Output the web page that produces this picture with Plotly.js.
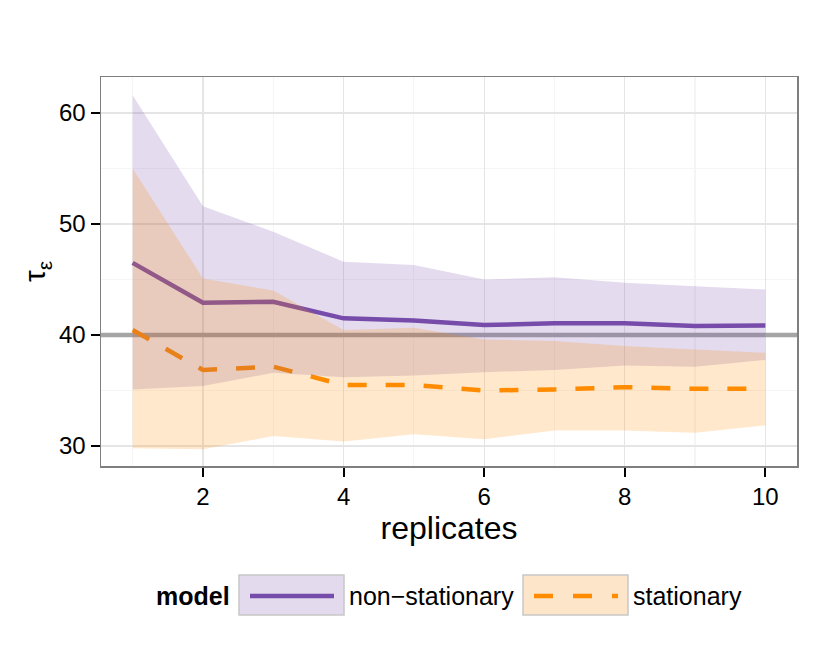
<!DOCTYPE html>
<html>
<head>
<meta charset="utf-8">
<script src="https://cdn.plot.ly/plotly-3.0.1.min.js"></script>
<style>
  html, body { margin: 0; padding: 0; background: #fff; }
  #chart { width: 830px; height: 664px; }
</style>
</head>
<body>
<div id="chart"></div>
<script>
// replicates on the x axis
var replicates = [1, 2, 3, 4, 5, 6, 7, 8, 9, 10];
var xRange = [0.55, 10.45];

// non-stationary model: mean and band
var nonstatMean  = [46.5, 42.9, 43.0, 41.5, 41.3, 40.9, 41.05, 41.05, 40.8, 40.85];
var nonstatUpper = [61.6, 51.6, 49.3, 46.6, 46.3, 45.0, 45.2, 44.7, 44.4, 44.1];
var nonstatLower = [35.1, 35.4, 36.6, 36.2, 36.35, 36.65, 36.85, 37.25, 37.15, 37.75];

// stationary model: mean and band
var statMean  = [40.45, 36.85, 37.15, 35.5, 35.5, 35.0, 35.1, 35.3, 35.15, 35.15];
var statUpper = [55.0, 45.1, 44.0, 40.45, 40.65, 39.6, 39.45, 39.0, 38.7, 38.4];
var statLower = [29.8, 29.7, 30.9, 30.4, 31.05, 30.6, 31.4, 31.4, 31.2, 31.85];

var trueValue = 40;
var yTicks = [30, 40, 50, 60];

var purple = 'rgb(118,76,170)';
var orange = 'rgb(255,140,0)';
var font = 'Liberation Sans, Arial, sans-serif';

// plot area in pixels
var L = 101, R = 797, T = 77, B = 466;
function px(x) { return (x - L) / (R - L); }
function py(y) { return (B - y) / (B - T); }

function band(upper, lower) {
  return {
    x: replicates.concat(replicates.slice().reverse()),
    y: upper.concat(lower.slice().reverse())
  };
}

var nb = band(nonstatUpper, nonstatLower);
var sb = band(statUpper, statLower);

var traces = [
  {
    // true value
    x: xRange, y: [trueValue, trueValue], type: 'scatter', mode: 'lines',
    line: {color: 'rgb(165,165,165)', width: 4.5}, showlegend: false, hoverinfo: 'skip'
  },
  {
    x: replicates, y: nonstatMean, type: 'scatter', mode: 'lines',
    line: {color: purple, width: 4.5}, showlegend: false, hoverinfo: 'skip'
  },
  {
    x: replicates, y: statMean, type: 'scatter', mode: 'lines',
    line: {color: orange, width: 4.5, dash: '19px,19px'}, showlegend: false, hoverinfo: 'skip'
  },
  {
    x: nb.x, y: nb.y, type: 'scatter', mode: 'lines', fill: 'toself',
    fillcolor: 'rgba(118,76,170,0.2)', line: {width: 0}, showlegend: false, hoverinfo: 'skip'
  },
  {
    x: sb.x, y: sb.y, type: 'scatter', mode: 'lines', fill: 'toself',
    fillcolor: 'rgba(255,140,0,0.2)', line: {width: 0}, showlegend: false, hoverinfo: 'skip'
  }
];

var shapes = [
  // legend keys
  {type: 'rect', xref: 'paper', yref: 'paper', x0: px(239), x1: px(344), y0: py(575), y1: py(615),
   fillcolor: 'rgb(227,218,237)', line: {color: 'rgb(200,200,200)', width: 1.5}},
  {type: 'line', xref: 'paper', yref: 'paper', x0: px(250), x1: px(334), y0: py(596), y1: py(596),
   line: {color: purple, width: 4.5}},
  {type: 'rect', xref: 'paper', yref: 'paper', x0: px(523), x1: px(628), y0: py(575), y1: py(615),
   fillcolor: 'rgb(253,229,201)', line: {color: 'rgb(200,200,200)', width: 1.5}},
  {type: 'line', xref: 'paper', yref: 'paper', x0: px(534), x1: px(618), y0: py(596), y1: py(596),
   line: {color: orange, width: 4.5, dash: '19px,20px'}}
];

var annotations = [
  {text: '<b>model</b>', xref: 'paper', yref: 'paper', x: px(154), y: py(596),
   xanchor: 'left', yanchor: 'middle', showarrow: false, font: {family: font, size: 25, color: '#000'}},
  {text: 'non\u2212stationary', xref: 'paper', yref: 'paper', x: px(347), y: py(596),
   xanchor: 'left', yanchor: 'middle', showarrow: false, font: {family: font, size: 25, color: '#000'}},
  {text: 'stationary', xref: 'paper', yref: 'paper', x: px(631), y: py(596),
   xanchor: 'left', yanchor: 'middle', showarrow: false, font: {family: font, size: 25, color: '#000'}}
];

var layout = {
  width: 830, height: 664,
  margin: {l: L, r: 830 - R, t: T, b: 664 - B, pad: 0},
  paper_bgcolor: '#fff', plot_bgcolor: '#fff',
  font: {family: font, size: 22, color: '#000'},
  showlegend: false,
  xaxis: {
    range: xRange, tickmode: 'array', tickvals: [2, 4, 6, 8, 10],
    ticks: 'outside', ticklen: 9, tickwidth: 2, tickcolor: '#000',
    tickfont: {family: font, size: 24, color: '#000'},
    showgrid: true, gridcolor: 'rgb(229,229,229)', gridwidth: 1.2,
    minor: {tickmode: 'array', tickvals: [1, 3, 5, 7, 9], showgrid: true, gridcolor: 'rgb(245,245,245)', gridwidth: 1.2, ticks: ''},
    zeroline: false, showline: true, mirror: true, linecolor: 'rgb(127,127,127)', linewidth: 1.5,
    title: {text: 'replicates', font: {family: font, size: 32, color: '#000'}, standoff: 0}
  },
  yaxis: {
    range: [28.2, 63.24], tickmode: 'array', tickvals: yTicks,
    ticks: 'outside', ticklen: 9, tickwidth: 2, tickcolor: '#000',
    tickfont: {family: font, size: 24, color: '#000'},
    showgrid: true, gridcolor: 'rgb(229,229,229)', gridwidth: 1.2,
    minor: {tickmode: 'array', tickvals: [35, 45, 55], showgrid: true, gridcolor: 'rgb(245,245,245)', gridwidth: 1.2, ticks: ''},
    zeroline: false, showline: true, mirror: true, linecolor: 'rgb(127,127,127)', linewidth: 1.5,
    title: {text: '\u03c4<sub>\u03b5</sub>', font: {family: font, size: 30, color: '#000'}, standoff: 4}
  },
  annotations: annotations,
  shapes: shapes
};

Plotly.newPlot('chart', traces, layout, {staticPlot: true, displayModeBar: false});
</script>
</body>
</html>
